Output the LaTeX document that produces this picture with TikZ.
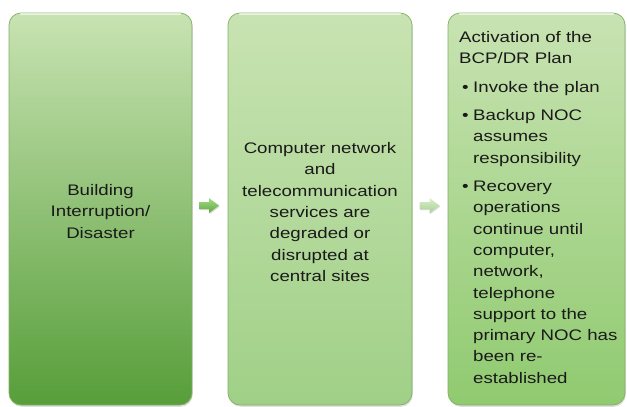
\documentclass[tikz,border=0pt]{standalone}
\usepackage{fontspec}
\setmainfont[FakeStretch=1.22]{Liberation Sans}
\usetikzlibrary{shadows,calc}
\definecolor{txt}{HTML}{1A1A1A}
\definecolor{gtop}{HTML}{C8E3B2}
\definecolor{bonebot}{HTML}{579E3A}
\definecolor{bonemid}{HTML}{8EC46F}
\definecolor{btwobot}{HTML}{A0D087}
\definecolor{bthreebot}{HTML}{90CA70}
\definecolor{edge}{HTML}{80B065}
\definecolor{aonetop}{HTML}{A6DA8A}
\definecolor{aonebot}{HTML}{5BA83B}
\definecolor{atwotop}{HTML}{DCEFD0}
\definecolor{atwobot}{HTML}{A6CF8E}
\tikzset{
  box/.style={rounded corners=12pt, draw=edge, line width=0.7pt, inner sep=0pt,
    drop shadow={opacity=0.25, shadow xshift=0.8pt, shadow yshift=-1.8pt}},
  lbl/.style={text=txt, inner sep=0pt, font=\fontsize{15.3}{21.3}\selectfont},
  blockarrow/.style={drop shadow={opacity=0.3, shadow xshift=0.6pt, shadow yshift=-1.2pt}},
}
\begin{document}
\begin{tikzpicture}[x=1pt,y=-1pt]
\useasboundingbox (0,0) rectangle (627,407);
% boxes
\node[box, minimum width=183pt, minimum height=392pt, top color=gtop, middle color=bonemid, bottom color=bonebot] (b1) at (100.5,209) {};
\node[box, minimum width=184pt, minimum height=392pt, top color=gtop, bottom color=btwobot] (b2) at (320,209) {};
\node[box, minimum width=177pt, minimum height=392pt, top color=gtop, bottom color=bthreebot] (b3) at (536.5,209) {};
% highlights
\foreach \b in {b1,b2,b3}{
  \draw[white, opacity=0.6, line width=1.4pt, line cap=round]
    ([xshift=12pt,yshift=-1.5pt]\b.north west) -- ([xshift=-12pt,yshift=-1.5pt]\b.north east);
}
% texts
\node[lbl, align=center] (t1) at (100.5,211.5) {Building\\Interruption/\\Disaster};
\node[lbl, align=center] (t2) at (320,212) {Computer network\\and\\telecommunication\\services are\\degraded or\\disrupted at\\central sites};
\node[lbl, align=left, anchor=north west] (t3) at (459,31) {Activation of the\\
BCP/DR Plan\\[7.5pt]
\makebox[14pt][l]{\hspace{3pt}•}Invoke the plan\\[7pt]
\makebox[14pt][l]{\hspace{3pt}•}Backup NOC\\
\hspace*{14pt}assumes\\
\hspace*{14pt}responsibility\\[7pt]
\makebox[14pt][l]{\hspace{3pt}•}Recovery\\
\hspace*{14pt}operations\\
\hspace*{14pt}continue until\\
\hspace*{14pt}computer,\\
\hspace*{14pt}network,\\
\hspace*{14pt}telephone\\
\hspace*{14pt}support to the\\
\hspace*{14pt}primary NOC has\\
\hspace*{14pt}been re-\\
\hspace*{14pt}established};
% arrows
\coordinate (a1) at ($($(b1.east)!0.5!(b2.west)$)+(-1,-3.5)$);
\coordinate (a2) at ($($(b2.east)!0.5!(b3.west)$)+(-0.5,-3.5)$);
\path[blockarrow, top color=aonetop, bottom color=aonebot, shift={(a1)}]
  (-10,-3.5) -- (0,-3.5) -- (0,-7.5) -- (10,0) -- (0,7.5) -- (0,3.5) -- (-10,3.5) -- cycle;
\path[blockarrow, top color=atwotop, bottom color=atwobot, shift={(a2)}]
  (-10,-3.5) -- (0,-3.5) -- (0,-7.5) -- (10,0) -- (0,7.5) -- (0,3.5) -- (-10,3.5) -- cycle;
\end{tikzpicture}
\end{document}
